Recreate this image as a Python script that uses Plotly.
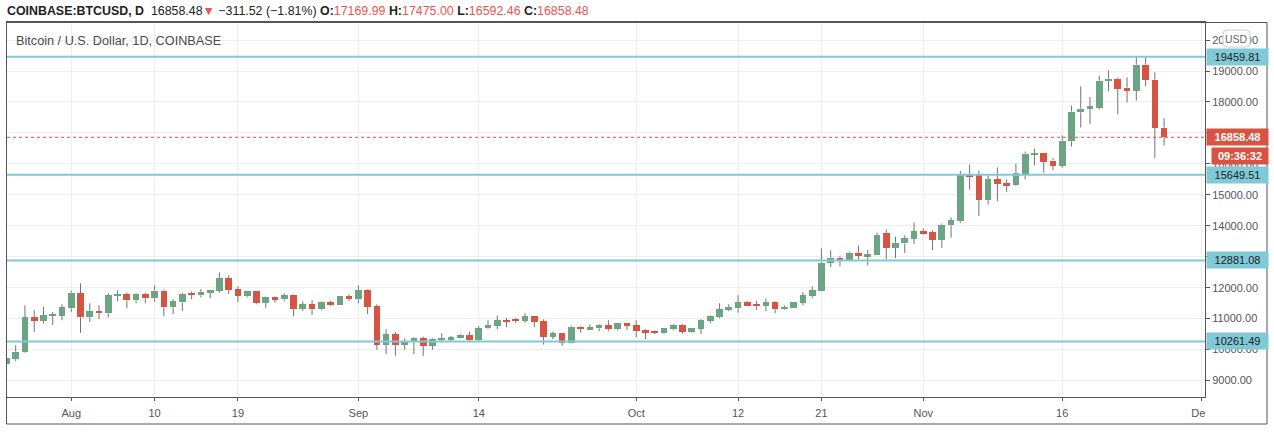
import plotly.graph_objects as go
import pandas as pd

# ---------------- data ----------------
dates = pd.date_range("2020-07-25", "2020-11-27", freq="D")

opens = [9530, 9690, 9925, 11043, 10925, 11090, 11100,
         11333, 11817, 11043, 11237, 11172, 11731, 11785, 11591, 11785, 11656, 11903, 11366, 11527, 11796, 11753, 11828,
         11892, 12301, 11946, 11720, 11882, 11505, 11688, 11624, 11774, 11301, 11462, 11301, 11538, 11430, 11720,
         11624, 11914, 11398, 10151, 10495, 10151, 10280, 10365, 10118, 10300, 10310, 10400, 10462, 10301, 10688,
         10763, 10946, 10935, 10925, 11075, 10914, 10419, 10527, 10226, 10742, 10656, 10688, 10785, 10656, 10849,
         10785, 10624, 10570, 10527, 10656, 10785, 10570, 10677, 10925, 11054, 11280, 11333, 11538, 11430, 11409,
         11538, 11301, 11333, 11505, 11720, 11892, 12796, 12968, 12903, 13129, 13022, 13054, 13753, 13280, 13430, 13570,
         13817, 13785, 13538, 14011, 14140, 15634, 15624, 14828, 15495, 15366, 15312, 15688, 16301, 16366, 16108,
         15946, 16731, 17667, 17785, 17817, 18677, 18753, 18462, 18366, 19204, 18720, 17169.99]
highs = [9730, 10140, 11430, 11280, 11376, 11215, 11462,
         11903, 12140, 11495, 11430, 11820, 11914, 11839, 11817, 11839, 12075, 11946, 11624, 11839, 11882, 11957, 11914,
         12495, 12398, 12043, 11892, 11892, 11710, 11720, 11817, 11785, 11559, 11591, 11559, 11580, 11720, 11785,
         12075, 11946, 11462, 10656, 10570, 10365, 10387, 10419, 10365, 10530, 10440, 10500, 10580, 10763, 10946,
         11100, 11022, 11022, 11172, 11075, 10978, 10580, 10527, 10785, 10763, 10817, 10817, 10946, 10849, 10849,
         10946, 10656, 10613, 10688, 10817, 10817, 10688, 10978, 11108, 11495, 11462, 11753, 11570, 11570, 11645,
         11559, 11430, 11527, 11850, 12043, 13269, 13204, 13032, 13172, 13355, 13226, 13774, 13882, 13645, 13688, 14108,
         13914, 13850, 14075, 14269, 15774, 15978, 15774, 15624, 15882, 15495, 16011, 16398, 16495, 16366, 16183,
         16914, 17882, 18505, 18161, 18850, 19011, 18796, 18796, 19441, 19459.81, 18957, 17475.00]
lows = [9480, 9630, 9900, 10570, 10839, 10796, 10946,
        11215, 10538, 10892, 10978, 11043, 11559, 11333, 11495, 11495, 11548, 11075, 11140, 11247, 11624, 11688, 11656,
        11839, 11796, 11537, 11677, 11462, 11344, 11516, 11559, 11075, 11237, 11118, 11269, 11409, 11430, 11559,
        11495, 11140, 9989, 9849, 9796, 9989, 9849, 9796, 10000, 10230, 10280, 10360, 10226, 10280, 10656,
        10656, 10720, 10860, 10860, 10720, 10160, 10333, 10118, 10204, 10548, 10634, 10591, 10591, 10613, 10634,
        10398, 10333, 10495, 10495, 10624, 10516, 10548, 10505, 10849, 11011, 11237, 11194, 11409, 11280, 11237,
        11172, 11280, 11333, 11430, 11656, 11892, 12667, 12688, 12903, 12914, 12720, 13054, 12914, 12957, 13118, 13408,
        13710, 13215, 13280, 13613, 14086, 15172, 14312, 14688, 14796, 15097, 15280, 15495, 15946, 15710, 15796,
        15871, 16559, 17172, 17290, 17753, 18344, 17602, 17978, 18043, 18505, 16183, 16592.46]
closes = [9720, 9935, 11043, 10925, 11108, 11115, 11366,
          11839, 11043, 11237, 11172, 11753, 11796, 11591, 11785, 11656, 11903, 11366, 11559, 11796, 11763, 11850, 11925,
          12301, 11925, 11731, 11882, 11495, 11688, 11624, 11753, 11301, 11462, 11301, 11538, 11430, 11720, 11624,
          11914, 11376, 10151, 10495, 10151, 10247, 10370, 10118, 10333, 10370, 10398, 10462, 10301, 10688, 10796,
          10946, 10914, 10925, 11075, 10892, 10419, 10527, 10226, 10742, 10656, 10720, 10785, 10656, 10849, 10763,
          10591, 10538, 10538, 10688, 10785, 10570, 10688, 10946, 11086, 11301, 11376, 11538, 11409, 11420, 11538,
          11301, 11376, 11527, 11753, 11914, 12806, 12968, 12903, 13129, 13022, 13075, 13710, 13280, 13452, 13591, 13817,
          13763, 13538, 14032, 14172, 15624, 15602, 14828, 15495, 15344, 15312, 15710, 16333, 16355, 16075, 15946,
          16753, 17688, 17785, 17860, 18688, 18753, 18430, 18366, 19204, 18720, 17170.00, 16858.48]

levels = [19459.81, 15649.51, 12881.08, 10261.49]
tick_dates = ["2020-08-01", "2020-08-10", "2020-08-19", "2020-09-01", "2020-09-14", "2020-10-01",
              "2020-10-12", "2020-10-21", "2020-11-01", "2020-11-16", "2020-12-01"]
tick_text = ["Aug", "10", "19", "Sep", "14", "Oct", "12", "21", "Nov", "16", "Dec"]
price_ticks = list(range(9000, 20001, 1000))

symbol = "COINBASE:BTCUSD, D"
chart_title = "Bitcoin / U.S. Dollar, 1D, COINBASE"
countdown = "09:36:32"

# ---------------- styles ----------------
UP = "#6ba583"
DOWN = "#d75442"
WICK = "#737375"
CYAN = "#7fcad6"
GRID = "#eeeeee"
AXIS = "#555555"
TXT = "#555555"
HDR_RED = "#ef5350"
FONT = "Liberation Sans, Arial, sans-serif"

W_FIG, H_FIG = 1274, 435
L, T, R, B = 7, 22, 69, 38
PW, PH = W_FIG - L - R, H_FIG - T - B


def pxx(px):
    return (px - L) / PW


def pyy(py):
    return (T + PH - py) / PH


# ---------------- traces ----------------
body_lo = [min(o, c) for o, c in zip(opens, closes)]
body_hi = [max(o, c) for o, c in zip(opens, closes)]
min_h = 40
heights = [max(h - l, min_h) for h, l in zip(body_hi, body_lo)]
colors = [UP if c >= o else DOWN for o, c in zip(opens, closes)]

wx, wy = [], []
for d, h, l, bh, bl in zip(dates, highs, lows, body_hi, body_lo):
    wx += [d, d, None, d, d, None]
    wy += [h, bh, None, bl, l, None]

fig = go.Figure()
fig.add_trace(go.Bar(x=dates, y=heights, base=body_lo, width=0.72 * 86400000,
                     marker=dict(color=colors, line=dict(width=0)), hoverinfo="skip"))
fig.add_trace(go.Scatter(x=wx, y=wy, mode="lines", line=dict(color=WICK, width=1),
                         hoverinfo="skip", connectgaps=False))

# ---------------- shapes ----------------
shapes = []
for lv in levels:
    shapes.append(dict(type="line", xref="paper", x0=0, x1=1, yref="y", y0=lv, y1=lv,
                       line=dict(color=CYAN, width=2), layer="above"))
shapes.append(dict(type="line", xref="paper", x0=0, x1=1, yref="y", y0=closes[-1], y1=closes[-1],
                   line=dict(color=DOWN, width=1, dash="dot"), layer="above"))
# cover area right of time axis (clips the "Dec" label like the reference)
shapes.append(dict(type="rect", xref="paper", yref="paper", x0=pxx(1205.8), x1=pxx(1267),
                   y0=pyy(424), y1=pyy(397.6), fillcolor="white", line=dict(width=0), layer="above"))
# outer frame
shapes.append(dict(type="rect", xref="paper", yref="paper", x0=pxx(6.5), x1=pxx(1267),
                   y0=pyy(424), y1=pyy(22.5), line=dict(color=AXIS, width=1), layer="above"))
# USD badge (rounded)
bx0, bx1, by0, by1, rr = pxx(1223), pxx(1250), pyy(47), pyy(30), 4
rx = rr / PW
ry = rr / PH
path = (f"M {bx0+rx},{by1} L {bx1-rx},{by1} Q {bx1},{by1} {bx1},{by1-ry} "
        f"L {bx1},{by0+ry} Q {bx1},{by0} {bx1-rx},{by0} L {bx0+rx},{by0} "
        f"Q {bx0},{by0} {bx0},{by0+ry} L {bx0},{by1-ry} Q {bx0},{by1} {bx0+rx},{by1} Z")
shapes.append(dict(type="path", xref="paper", yref="paper", path=path, fillcolor="white",
                   line=dict(color="#cccccc", width=1), layer="above"))

# ---------------- annotations ----------------
ann = []
for lv in levels:
    ann.append(dict(xref="paper", x=pxx(1205.5), xanchor="left", yref="y", y=lv, yanchor="middle",
                    text=f"{lv:.2f}", showarrow=False, bgcolor=CYAN, width=61, height=16, borderpad=0,
                    font=dict(family=FONT, size=11, color="#222222"), align="center"))
ann.append(dict(xref="paper", x=pxx(1205.5), xanchor="left", yref="y", y=closes[-1], yanchor="middle",
                text=f"<b>{closes[-1]:.2f}</b>", showarrow=False, bgcolor=DOWN, width=61, height=16,
                borderpad=0, font=dict(family=FONT, size=11, color="white"), align="center"))
ann.append(dict(xref="paper", x=pxx(1211), xanchor="left", yref="paper", y=pyy(155.5), yanchor="middle",
                text=f"<b>{countdown}</b>", showarrow=False, bgcolor=DOWN, width=56, height=16,
                borderpad=0, font=dict(family=FONT, size=11, color="white"), align="center"))
ann.append(dict(xref="paper", x=pxx(1236.5), xanchor="center", yref="paper", y=pyy(38.5), yanchor="middle",
                text="USD", showarrow=False, font=dict(family=FONT, size=10.5, color="#666666")))
ann.append(dict(xref="paper", x=pxx(14), xanchor="left", yref="paper", y=pyy(40.5), yanchor="middle",
                text=chart_title, showarrow=False, font=dict(family=FONT, size=12.7, color="#4a4a4a")))

chg = closes[-1] - closes[-2]
pct = chg / closes[-2] * 100
sgn = "\u2212" if chg < 0 else "+"
red = lambda s: f"<span style='color:{HDR_RED}'>{s}</span>"
header = (f"<b>{symbol}</b>  {closes[-1]:.2f}{red('\u25bc')} {sgn}{abs(chg):.2f} ({sgn}{abs(pct):.2f}%) "
          f"<b>O:</b>{red(f'{opens[-1]:.2f}')} <b>H:</b>{red(f'{highs[-1]:.2f}')} "
          f"<b>L:</b>{red(f'{lows[-1]:.2f}')} <b>C:</b>{red(f'{closes[-1]:.2f}')}")
ann.append(dict(xref="paper", x=pxx(5), xanchor="left", yref="paper", y=pyy(10.5), yanchor="middle",
                text=header, showarrow=False, font=dict(family=FONT, size=12.4, color="#222222")))

# ---------------- layout ----------------
fig.update_layout(
    width=W_FIG, height=H_FIG, margin=dict(l=L, r=R, t=T, b=B, pad=0),
    paper_bgcolor="white", plot_bgcolor="white", showlegend=False, hovermode=False,
    bargap=0, shapes=shapes, annotations=ann,
    xaxis=dict(type="date", range=["2020-07-25 01:30", "2020-12-01 10:00"],
               tickvals=tick_dates, ticktext=tick_text, showgrid=True, gridcolor=GRID, gridwidth=1,
               showline=True, linecolor=AXIS, linewidth=1, mirror=True,
               ticks="outside", ticklen=3, tickcolor=AXIS, ticklabelstandoff=3,
               tickfont=dict(family=FONT, size=11, color=TXT), zeroline=False,
               fixedrange=True, rangeslider=dict(visible=False)),
    yaxis=dict(side="right", range=[8467, 20583], tickvals=price_ticks, tickformat=".2f",
               showgrid=True, gridcolor=GRID, gridwidth=1,
               showline=True, linecolor=AXIS, linewidth=1, mirror=True,
               ticks="outside", ticklen=4, tickcolor=AXIS,
               tickfont=dict(family=FONT, size=11, color=TXT), zeroline=False, fixedrange=True),
)

fig.write_html("out.html", config={"displayModeBar": False},
               post_script="document.body.style.margin='0px';document.body.style.padding='0px';")
